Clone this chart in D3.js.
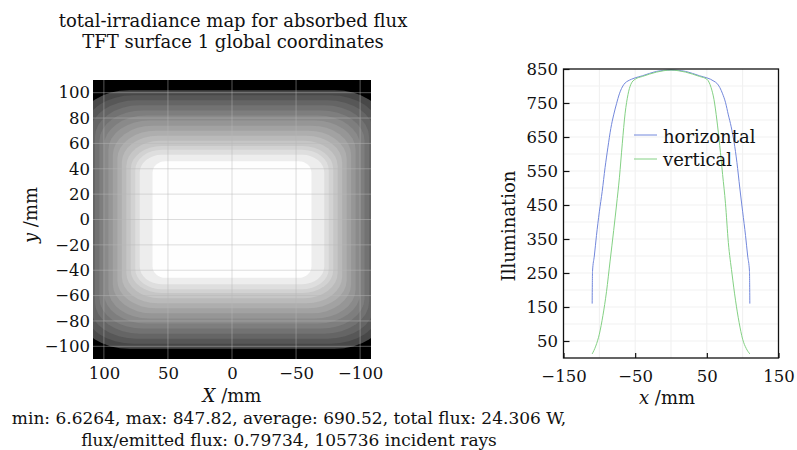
<!DOCTYPE html>
<html>
<head>
<meta charset="utf-8">
<script src="https://cdn.jsdelivr.net/npm/d3@7"></script>
<style>
  body { margin: 0; background: #fff; }
  text { font-family: "DejaVu Serif", serif; fill: #111; }
</style>
</head>
<body>
<div id="chart"></div>
<script>
var bandLevel   = [240, 290, 335, 380, 420, 460, 500, 540, 580, 620, 660, 700, 740, 790, 847];
var bandHalfW   = [118, 114, 110.5, 107, 103.5, 100, 96.5, 93, 89.5, 86, 82.5, 79, 75.5, 72, 62];
var bandHalfH   = [102, 98, 94, 90, 86, 82, 78, 74, 70, 66, 62, 58, 55, 51, 46];
var bandCornerX = [38, 37, 36, 35, 34, 33, 32, 31, 30, 28, 26, 24, 21, 17, 10];
var bandCornerY = [25, 25, 25, 25, 24, 24, 23, 23, 22, 21, 20, 18, 16, 14, 9];
var mapXTicks = [100, 50, 0, -50, -100];
var mapYTicks = [100, 80, 60, 40, 20, 0, -20, -40, -60, -80, -100];

// profiles through the centre
var horizX   = [-110, -109.5, -107, -104, -100, -96, -92, -88, -84, -80, -76, -72, -68, -64, -60, -55, -50, -40, -30, -20, -10, 0,
                10, 20, 30, 40, 50, 55, 60, 64, 68, 72, 76, 80, 84, 88, 92, 96, 100, 104, 107, 109.5, 110];
var horizVal = [160, 255, 300, 360, 430, 490, 560, 620, 675, 715, 748, 777, 797, 809, 815, 820, 824, 830, 837, 843, 846, 847,
                846, 843, 837, 830, 824, 820, 814, 808, 796, 777, 752, 715, 680, 635, 575, 500, 430, 360, 300, 255, 160];
var vertX    = [-110, -105, -100, -95, -90, -85, -80, -76, -72, -68, -64, -60, -56, -50, -40, -30, -20, -10, 0,
                10, 20, 30, 40, 50, 56, 60, 64, 68, 72, 76, 80, 85, 90, 95, 100, 105, 110];
var vertVal  = [12, 35, 70, 125, 195, 285, 375, 450, 530, 630, 720, 775, 805, 820, 828, 835, 841, 845, 847,
                845, 841, 835, 828, 820, 795, 760, 700, 625, 540, 455, 340, 250, 170, 105, 55, 28, 12];
var profXTicks = [-150, -50, 50, 150];
var profYTicks = [50, 150, 250, 350, 450, 550, 650, 750, 850];
var seriesNames = ["horizontal", "vertical"];

var titleLines = ["total-irradiance map for absorbed flux", "TFT surface 1 global coordinates"];
var statsLines = ["min: 6.6264, max: 847.82, average: 690.52, total flux: 24.306 W,",
                  "flux/emitted flux: 0.79734, 105736 incident rays"];

var w = 797, h = 450;
var svg = d3.select("#chart").append("svg")
    .attr("width", w).attr("height", h);
svg.append("rect").attr("width", w).attr("height", h).attr("fill", "#fff");

// ---------- left: irradiance map ----------
var mx = d3.scaleLinear().domain([108.5, -108.5]).range([93, 371]);
var my = d3.scaleLinear().domain([-110, 110]).range([359, 80]);
var grey = d3.scaleLinear().domain([0, 850]).range(["#000", "#fff"]);

svg.append("clipPath").attr("id", "mapclip")
  .append("rect").attr("x", 93).attr("y", 80).attr("width", 278).attr("height", 279);

var map = svg.append("g").attr("clip-path", "url(#mapclip)");
map.append("rect").attr("x", 93).attr("y", 80).attr("width", 278).attr("height", 279).attr("fill", "#000");

map.selectAll("rect.band")
    .data(d3.range(bandLevel.length))
  .enter().append("rect")
    .attr("class", "band")
    .attr("x", function (i) { return mx(bandHalfW[i]); })
    .attr("y", function (i) { return my(bandHalfH[i]); })
    .attr("width", function (i) { return mx(-bandHalfW[i]) - mx(bandHalfW[i]); })
    .attr("height", function (i) { return my(-bandHalfH[i]) - my(bandHalfH[i]); })
    .attr("rx", function (i) { return mx(0) - mx(bandCornerX[i]); })
    .attr("ry", function (i) { return my(0) - my(bandCornerY[i]); })
    .attr("fill", function (i) { return grey(bandLevel[i]); });

// grid over the map
map.selectAll("line.gx").data(mapXTicks).enter().append("line")
    .attr("x1", function (d) { return mx(d); }).attr("x2", function (d) { return mx(d); })
    .attr("y1", 80).attr("y2", 359)
    .attr("stroke", "rgb(182,182,182)").attr("stroke-opacity", 0.47);
map.selectAll("line.gy").data(mapYTicks).enter().append("line")
    .attr("y1", function (d) { return my(d); }).attr("y2", function (d) { return my(d); })
    .attr("x1", 93).attr("x2", 371)
    .attr("stroke", "rgb(182,182,182)").attr("stroke-opacity", 0.47);

var mapXAxis = d3.axisBottom(mx).tickValues(mapXTicks).tickSize(0).tickPadding(8);
var mapYAxis = d3.axisLeft(my).tickValues(mapYTicks).tickSize(0).tickPadding(3);

svg.append("g").attr("transform", "translate(0,359)").call(mapXAxis)
    .call(function (g) { g.select(".domain").remove(); });
svg.append("g").attr("transform", "translate(93,0)").call(mapYAxis)
    .call(function (g) { g.select(".domain").remove(); });

// ---------- right: profiles ----------
var px = d3.scaleLinear().domain([-150, 150]).range([563.5, 778.5]);
var py = d3.scaleLinear().domain([0, 850]).range([358, 69]);

var grid = svg.append("g");
grid.selectAll("line.vx").data(d3.range(-100, 101, 50)).enter().append("line")
    .attr("x1", function (d) { return px(d); }).attr("x2", function (d) { return px(d); })
    .attr("y1", 69).attr("y2", 358).attr("stroke", "#efefef");
grid.selectAll("line.hy").data(d3.range(50, 801, 50)).enter().append("line")
    .attr("y1", function (d) { return py(d); }).attr("y2", function (d) { return py(d); })
    .attr("x1", 563.5).attr("x2", 778.5).attr("stroke", "#f1f1f1");

var line = d3.line()
    .x(function (d) { return px(d[0]); })
    .y(function (d) { return py(d[1]); })
    .curve(d3.curveMonotoneX);

svg.append("path")
    .datum(d3.zip(horizX, horizVal))
    .attr("fill", "none").attr("stroke", "#7388dc").attr("stroke-width", 1)
    .attr("d", line);
svg.append("path")
    .datum(d3.zip(vertX, vertVal))
    .attr("fill", "none").attr("stroke", "#84d184").attr("stroke-width", 1)
    .attr("d", line);

var profXAxis = d3.axisBottom(px).tickValues(profXTicks).tickSizeInner(-5).tickSizeOuter(0).tickPadding(12);
var profYAxis = d3.axisLeft(py).tickValues(profYTicks).tickSizeInner(-6).tickSizeOuter(0).tickPadding(5.5);

svg.append("g").attr("transform", "translate(0,358)").call(profXAxis)
    .call(function (g) { g.select(".domain").remove(); g.selectAll(".tick line").attr("stroke", "#111").attr("stroke-width", 1.2); });
svg.append("g").attr("transform", "translate(563.5,0)").call(profYAxis)
    .call(function (g) { g.select(".domain").remove(); g.selectAll(".tick line").attr("stroke", "#111").attr("stroke-width", 1.2); });

svg.append("rect")
    .attr("x", 563.5).attr("y", 69).attr("width", 215).attr("height", 289)
    .attr("fill", "none").attr("stroke", "#111").attr("stroke-width", 1.3);

svg.selectAll(".tick text")
    .style("font-family", "'DejaVu Serif', serif").attr("font-size", 16.5).attr("fill", "#111");

// legend
var legColors = ["#7388dc", "#84d184"];
var leg = svg.append("g");
seriesNames.forEach(function (name, i) {
    leg.append("line")
        .attr("x1", 634).attr("x2", 657)
        .attr("y1", 135 + i * 24).attr("y2", 135 + i * 24)
        .attr("stroke", legColors[i]).attr("stroke-width", 1);
    leg.append("text")
        .attr("x", 663).attr("y", 143 + i * 23)
        .attr("font-size", 18)
        .text(name);
});

// ---------- texts ----------
svg.selectAll("text.title").data(titleLines).enter().append("text")
    .attr("class", "title")
    .attr("x", 233).attr("y", function (d, i) { return 27 + i * 21; })
    .attr("text-anchor", "middle").attr("font-size", 18)
    .text(function (d) { return d; });

svg.selectAll("text.stats").data(statsLines).enter().append("text")
    .attr("class", "stats")
    .attr("x", 289).attr("y", function (d, i) { return 424 + i * 21.5; })
    .attr("text-anchor", "middle").attr("font-size", 17)
    .text(function (d) { return d; });

var xl = svg.append("text").attr("x", 232).attr("y", 402).attr("text-anchor", "middle").attr("font-size", 18);
xl.append("tspan").attr("font-style", "italic").text("X");
xl.append("tspan").text(" /mm");

var yl = svg.append("text").attr("transform", "translate(37,215) rotate(-90)").attr("text-anchor", "middle").attr("font-size", 18);
yl.append("tspan").attr("font-style", "italic").text("y");
yl.append("tspan").text(" /mm");

svg.append("text").attr("transform", "translate(515,226) rotate(-90)")
    .attr("text-anchor", "middle").attr("font-size", 18).text("Illumination");

var pxl = svg.append("text").attr("x", 667).attr("y", 404).attr("text-anchor", "middle").attr("font-size", 18);
pxl.append("tspan").attr("font-style", "italic").text("x");
pxl.append("tspan").text(" /mm");
</script>
</body>
</html>
